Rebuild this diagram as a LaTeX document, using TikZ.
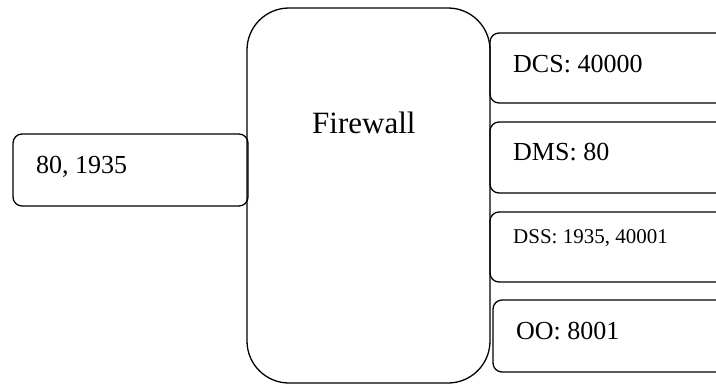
\documentclass[tikz,border=0pt]{standalone}
\usepackage{fontspec}
\setmainfont{Liberation Serif}
\begin{document}
\begin{tikzpicture}[x=1pt,y=-1pt,
  box/.style={draw=black,line width=1.3pt,rounded corners=9pt,fill=none},
  fwbox/.style={draw=black,line width=1.3pt,rounded corners=42pt},
  lab/.style={anchor=base west,inner sep=0pt,font=\fontsize{26}{30}\selectfont},
  smalllab/.style={anchor=base west,inner sep=0pt,font=\fontsize{21}{25}\selectfont},
  biglab/.style={anchor=base west,inner sep=0pt,font=\fontsize{31}{36}\selectfont}]
\clip (0,0) rectangle (716,384);
% firewall
\draw[fwbox] (247,8) rectangle (490,383);
\node[biglab] (fwt) at (312,133) {Firewall};
% left box
\draw[box] (13,134) rectangle (248,206);
\node[lab] (lt) at (36,173) {80, 1935};
% right boxes
\draw[box] (490,33) rectangle (760,103);
\node[lab] (dcs) at (513,72) {DCS: 40000};
\draw[box] (490,122) rectangle (760,193);
\node[lab] (dms) at (513,160) {DMS: 80};
\draw[box] (490,212) rectangle (760,282);
\node[smalllab] (dss) at (513,243) {DSS: 1935, 40001};
\draw[box] (493,300) rectangle (760,372);
\node[lab] (oo) at (516,339) {OO: 8001};
\end{tikzpicture}
\end{document}
